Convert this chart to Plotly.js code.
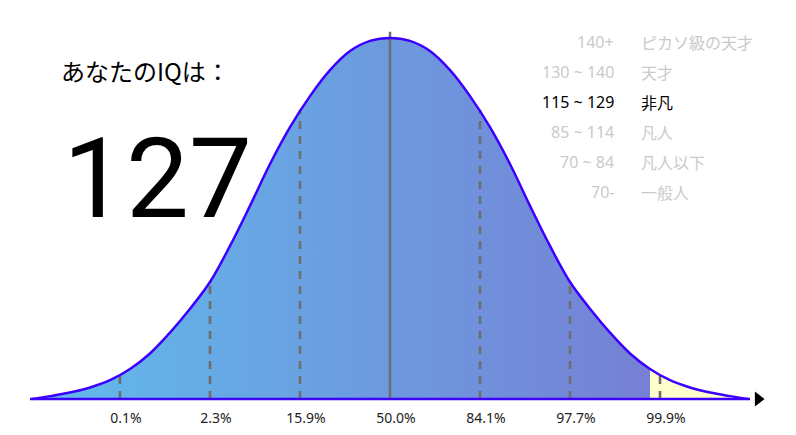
<!DOCTYPE html>
<html>
<head>
<meta charset="utf-8">
<script src="https://cdn.plot.ly/plotly-3.0.1.min.js"></script>
<style>html,body{margin:0;padding:0;background:#fff;}#chart{width:796px;height:435px;}</style>
</head>
<body>
<div id="chart"></div>
<script>
// ---- data ----
const iqValue = 127;
const fillEndZ = 2.889;          // where the blue fill stops (in sigma units)
const curveZ = [-3.978,-3.778,-3.556,-3.333,-3.111,-2.889,-2.667,-2.444,-2.222,-2.0,-1.778,-1.556,-1.333,-1.111,-0.889,-0.667,-0.444,-0.222,0,
                0.222,0.444,0.667,0.889,1.111,1.333,1.556,1.778,2.0,2.222,2.444,2.667,2.889,3.111,3.333,3.556,3.778,3.978];
const curveH = [0,0.008,0.018,0.032,0.052,0.083,0.126,0.184,0.250,0.324,0.424,0.535,0.651,0.753,0.839,0.911,0.964,0.992,1.0,
                0.992,0.964,0.911,0.839,0.753,0.651,0.535,0.424,0.324,0.250,0.184,0.126,0.083,0.052,0.032,0.018,0.008,0];
const dashZ = [-3,-2,-1,1,2,3];
const dashTop = [0.066,0.324,0.801,0.801,0.324,0.066];
const centerTop = 1.017;
const sigmaZ = [-3,-2,-1,0,1,2,3];
const sigmaPct = ['0.1%','2.3%','15.9%','50.0%','84.1%','97.7%','99.9%'];
const rangeLabels = ['140+','130 ~ 140','115 ~ 129','85 ~ 114','70 ~ 84','70-'];
const rangeNames = ['ピカソ級の天才','天才','非凡','凡人','凡人以下','一般人'];
const rangeMin = [140,130,115,85,70,0];
const rangeMax = [9999,140,129,114,84,69];

// ---- build ----
const W = 796, H = 435;
const blueZ = [], blueH = [], yelZ = [], yelH = [];
curveZ.forEach((z,i)=>{
  if (z <= fillEndZ) { blueZ.push(z); blueH.push(curveH[i]); }
  if (z >= fillEndZ) { yelZ.push(z); yelH.push(curveH[i]); }
});

const traces = [];
traces.push({
  type:'scatter', mode:'lines', x: blueZ, y: blueH, fill:'tozeroy',
  line:{width:0, shape:'spline'},
  fillgradient:{type:'horizontal', start:-4, stop:fillEndZ,
    colorscale:[[0,'#60bcec'],[1,'#7680d5']]},
  hoverinfo:'skip'
});
traces.push({
  type:'scatter', mode:'lines', x: yelZ, y: yelH, fill:'tozeroy',
  line:{width:0, shape:'spline'}, fillcolor:'#ffffcc', hoverinfo:'skip'
});
dashZ.forEach((z,i)=>{
  traces.push({type:'scatter', mode:'lines', x:[z,z], y:[0,dashTop[i]],
    line:{color:'#6e6e6e', width:2.6, dash:'8px,7px'}, hoverinfo:'skip'});
});
traces.push({type:'scatter', mode:'lines', x:[0,0], y:[0,centerTop],
  line:{color:'#6e6e6e', width:2.5}, hoverinfo:'skip'});
traces.push({
  type:'scatter', mode:'lines', x: curveZ, y: curveH,
  line:{color:'#3d00ff', width:2.5, shape:'spline'}, hoverinfo:'skip'
});
traces.push({
  type:'scatter', mode:'lines', x:[-4.0, 4.0], y:[0,0],
  line:{color:'#3d00ff', width:2.5}, hoverinfo:'skip'
});
traces.push({
  type:'scatter', mode:'markers', x:[4.09], y:[0],
  marker:{symbol:'triangle-right', size:13, color:'#000'}, hoverinfo:'skip', cliponaxis:false
});

const active = rangeMin.findIndex((m,i)=> iqValue >= m && iqValue <= rangeMax[i]);
const annotations = [];
rangeLabels.forEach((t,i)=>{
  const col = i === active ? '#000' : '#cacaca';
  const py = 42 + 30*i;
  annotations.push({xref:'paper', yref:'paper', x:616/W, y:1-py/H, xanchor:'right', yanchor:'middle',
    text:t, showarrow:false, font:{family:'Noto Sans, Noto Sans CJK JP', size:16, color:col}});
  annotations.push({xref:'paper', yref:'paper', x:639/W, y:1-py/H, xanchor:'left', yanchor:'middle',
    text:rangeNames[i], showarrow:false, font:{family:'Noto Sans CJK JP', size:16, color:col}});
});
annotations.push({xref:'paper', yref:'paper', x:59/W, y:1-70/H, xanchor:'left', yanchor:'middle',
  text:'あなたのIQは：', showarrow:false, font:{family:'Noto Sans CJK JP', size:24, color:'#000'}});
annotations.push({xref:'paper', yref:'paper', x:61/W, y:1-178/H, xanchor:'left', yanchor:'middle',
  text:String(iqValue), showarrow:false, font:{family:'Roboto', size:112, color:'#000'}});

const layout = {
  width:W, height:H, margin:{l:0,r:0,t:0,b:0},
  paper_bgcolor:'#fff', plot_bgcolor:'#fff', showlegend:false, hovermode:false,
  xaxis:{range:[-390/90, 406/90], showgrid:false, zeroline:false, showline:false,
    tickmode:'array', tickvals:sigmaZ, ticktext:sigmaPct, ticks:'',
    anchor:'free', position:(H-399)/H, ticklabelshift:6, ticklabelstandoff:9,
    tickfont:{family:'Noto Sans', size:14, color:'#222'}, fixedrange:true},
  yaxis:{range:[-36/361, 399/361], visible:false, fixedrange:true},
  annotations: annotations
};
Plotly.newPlot('chart', traces, layout, {staticPlot:true, displayModeBar:false});
</script>
</body>
</html>
